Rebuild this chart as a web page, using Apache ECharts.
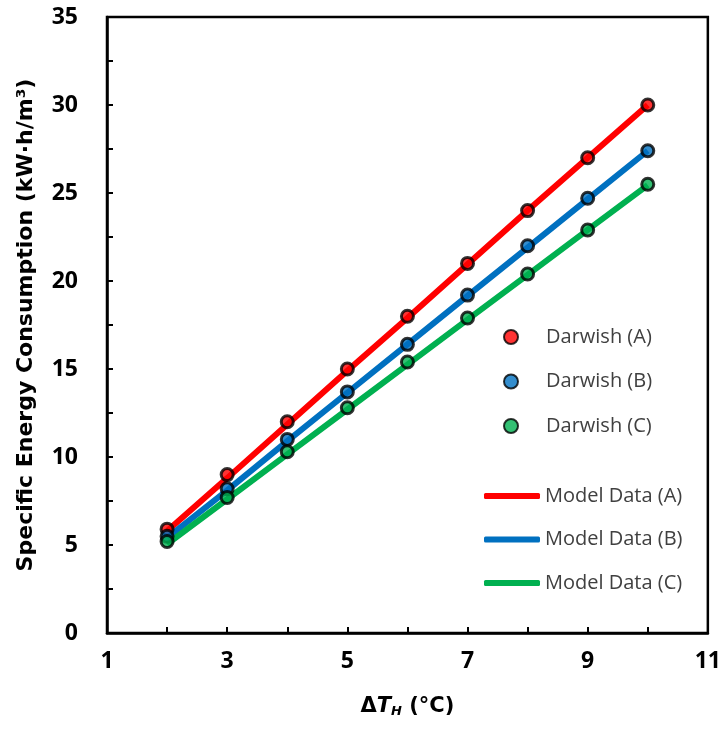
<!DOCTYPE html>
<html><head><meta charset="utf-8">
<script src="https://cdn.jsdelivr.net/npm/echarts@6/dist/echarts.min.js"></script>
<style>html,body{margin:0;padding:0;background:#fff}#c{width:724px;height:732px}</style>
</head><body><div id="c"></div>
<script>
const xVals = [2, 3, 4, 5, 6, 7, 8, 9, 10];
const darwishA = [5.9, 9.0, 12.0, 15.0, 18.0, 21.0, 24.0, 27.0, 30.0];
const darwishB = [5.5, 8.2, 11.0, 13.7, 16.4, 19.2, 22.0, 24.7, 27.4];
const darwishC = [5.2, 7.7, 10.3, 12.8, 15.4, 17.9, 20.4, 22.9, 25.5];
const modelA = [5.8, 8.8, 11.85, 14.9, 17.9, 20.95, 24.0, 27.0, 30.0];
const modelB = [5.4, 8.1, 10.9, 13.65, 16.4, 19.15, 21.9, 24.65, 27.4];
const modelC = [5.05, 7.6, 10.15, 12.7, 15.25, 17.8, 20.35, 22.9, 25.45];
const xTickLabels = [1, 3, 5, 7, 9, 11];
const yTickLabels = [0, 5, 10, 15, 20, 25, 30, 35];

const pairs = (ys) => xVals.map((x, i) => [x, ys[i]]);
const font = '"Open Sans", "Liberation Sans", sans-serif';
const titleFont = '"DejaVu Sans", sans-serif';
const colA = '#FF0000', colB = '#0070C0', colC = '#00B050';

const scatter = (name, ys, color) => ({
  name, type: 'scatter', data: pairs(ys), symbol: 'circle', symbolSize: 12, z: 5,
  itemStyle: { color, borderColor: '#000', borderWidth: 3 }
});
const line = (name, ys, color) => ({
  name, type: 'line', data: pairs(ys), symbol: 'none', z: 3,
  lineStyle: { color, width: 6 }, itemStyle: { color }
});

const chart = echarts.init(document.getElementById('c'));
chart.setOption({
  animation: false,
  backgroundColor: '#fff',
  grid: { left: 107, right: 16, top: 17, bottom: 99, show: true, borderColor: '#000', borderWidth: 2.5 },
  xAxis: {
    type: 'value', min: 1, max: 11, interval: 1,
    name: '{d|Δ}{t|T}{s|H}{d| (°C)}', nameLocation: 'middle', nameGap: 62,
    nameTextStyle: { rich: {
      d: { fontFamily: titleFont, fontWeight: 'bold', fontSize: 21, color: '#000' },
      t: { fontFamily: titleFont, fontWeight: 'bold', fontStyle: 'italic', fontSize: 21, color: '#000' },
      s: { fontFamily: titleFont, fontWeight: 'bold', fontStyle: 'italic', fontSize: 13, color: '#000', padding: [10, 0, 0, 0] }
    } },
    axisLine: { show: true, lineStyle: { color: '#000', width: 2.5 } },
    axisTick: { show: true, inside: true, length: 6, lineStyle: { color: '#000', width: 2 } },
    splitLine: { show: false },
    axisLabel: { margin: 17, fontFamily: font, fontWeight: 'bold', fontSize: 23, color: '#000',
      formatter: v => xTickLabels.includes(v) ? String(v) : '' }
  },
  yAxis: {
    type: 'value', min: 0, max: 35, interval: 2.5,
    name: 'Specific Energy Consumption (kW·h/m³)', nameLocation: 'middle', nameGap: 70,
    nameTextStyle: { fontFamily: titleFont, fontWeight: 'bold', fontSize: 22, color: '#000' },
    axisLine: { show: true, lineStyle: { color: '#000', width: 2.5 } },
    axisTick: { show: true, inside: true, length: 6, lineStyle: { color: '#000', width: 2 } },
    splitLine: { show: false },
    axisLabel: { margin: 29, fontFamily: font, fontWeight: 'bold', fontSize: 23, color: '#000',
      formatter: v => yTickLabels.includes(v) ? String(v) : '' }
  },
  legend: [
    { data: ['Darwish (A)', 'Darwish (B)', 'Darwish (C)'], orient: 'vertical', left: 503, top: 327, padding: 0,
      icon: 'circle', itemWidth: 14, itemHeight: 14, itemGap: 24.5,
      textStyle: { fontFamily: font, fontSize: 20, lineHeight: 20, color: '#404040', padding: [0, 0, 0, 23] } },
    { data: ['Model Data (A)', 'Model Data (B)', 'Model Data (C)'], orient: 'vertical', left: 484, top: 486, padding: 0,
      icon: 'roundRect', itemWidth: 56, itemHeight: 6, itemGap: 23.5,
      textStyle: { fontFamily: font, fontSize: 20, lineHeight: 20, color: '#404040' } }
  ],
  series: [
    line('Model Data (A)', modelA, colA),
    line('Model Data (B)', modelB, colB),
    line('Model Data (C)', modelC, colC),
    scatter('Darwish (A)', darwishA, colA),
    scatter('Darwish (B)', darwishB, colB),
    scatter('Darwish (C)', darwishC, colC)
  ]
});
</script></body></html>
